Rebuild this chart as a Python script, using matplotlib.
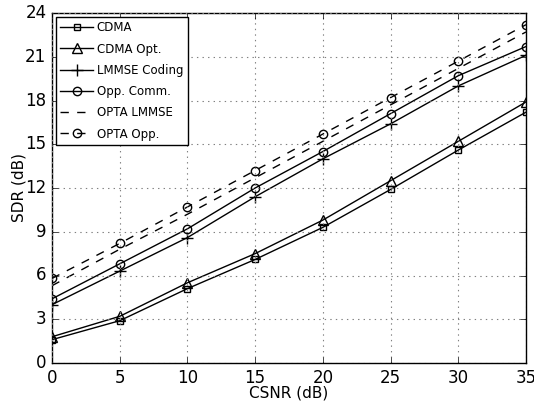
import matplotlib
matplotlib.use('Agg')
import matplotlib.pyplot as plt

# SDR vs CSNR for the different coding schemes
csnr = [0, 5, 10, 15, 20, 25, 30, 35]
cdma = [1.6, 2.9, 5.1, 7.1, 9.3, 11.9, 14.6, 17.2]
cdma_opt = [1.8, 3.2, 5.5, 7.5, 9.8, 12.5, 15.2, 17.9]
lmmse_coding = [4.0, 6.3, 8.6, 11.4, 14.0, 16.4, 19.0, 21.1]
opp_comm = [4.4, 6.8, 9.2, 12.0, 14.5, 17.1, 19.7, 21.7]
opta_lmmse = [5.3, 7.8, 10.2, 12.7, 15.2, 17.7, 20.2, 22.7]
opta_opp = [5.8, 8.2, 10.7, 13.2, 15.7, 18.2, 20.7, 23.2]

plt.style.use('classic')
plt.rcParams['font.family'] = 'DejaVu Sans'

fig = plt.figure(figsize=(5.34, 4.03), dpi=100, facecolor='white')
ax = fig.add_axes([52 / 534, 40 / 403, 474 / 534, 350 / 403])

kw = dict(color='k', lw=1, mfc='none', mec='k', mew=1)
ax.plot(csnr, cdma, 's-', ms=5, label='CDMA', **kw)
ax.plot(csnr, cdma_opt, '^-', ms=7, label='CDMA Opt.', **kw)
ax.plot(csnr, lmmse_coding, '+-', ms=9, label='LMMSE Coding', **kw)
ax.plot(csnr, opp_comm, 'o-', ms=6, label='Opp. Comm.', **kw)
ax.plot(csnr, opta_lmmse, '--', label='OPTA LMMSE', **kw)
ax.plot(csnr, opta_opp, 'o--', ms=6, label='OPTA Opp.', **kw)

ax.set_xlim(0, 35)
ax.set_ylim(0, 24)
ax.set_xticks(range(0, 36, 5))
ax.set_yticks(range(0, 25, 3))
ax.tick_params(labelsize=12, direction='in', top=True, right=True)
ax.grid(True, linestyle=':', color='0.5', lw=0.8)
ax.set_xlabel('CSNR (dB)', fontsize=11, labelpad=-1)
ax.set_ylabel('SDR (dB)', fontsize=11, labelpad=-1)

ax.legend(loc='upper left', fontsize=8.5, numpoints=1, handlelength=2.8,
          labelspacing=0.7, borderaxespad=0.3, fancybox=False,
          handletextpad=0.3)

fig.savefig('out.png', dpi=100, facecolor='white')
